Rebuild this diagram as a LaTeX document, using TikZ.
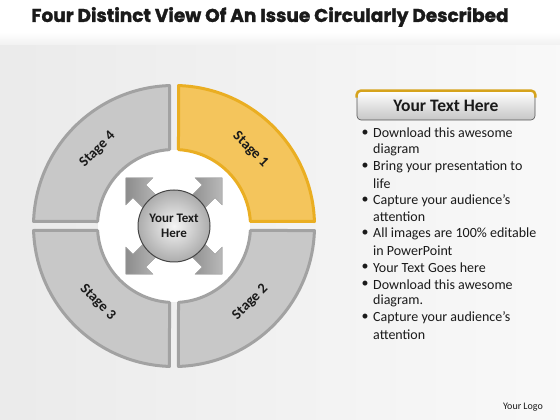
\documentclass[tikz,border=0pt]{standalone}
\usepackage{fontspec}
\setmainfont{Carlito}
\newfontfamily\titlefont[FakeBold=1.5]{Poppins}
\definecolor{segfill}{HTML}{C8C8C8}
\definecolor{segline}{HTML}{A2A2A2}
\definecolor{goldfill}{HTML}{F4C55C}
\definecolor{goldline}{HTML}{EAAE22}
\definecolor{hdrgold}{HTML}{D6A31C}
\definecolor{ink}{HTML}{1A1A1A}
\begin{document}
\begin{tikzpicture}[x=1pt,y=1pt,
  seg/.style={line width=3pt,line join=round},
  stagelbl/.style={font=\bfseries\fontsize{14.5}{16}\selectfont,text=ink},
  blockarrow/.style={left color=gray!90,right color=gray!55,draw=gray!70,line width=.4pt},
  listline/.style={anchor=west,inner sep=0pt,font=\fontsize{14}{16}\selectfont,text=ink},
  hdr/.style={minimum width=178pt,minimum height=29pt,rounded corners=4pt,top color=white,bottom color=gray!45,draw=gray!65!black,line width=.6pt,font=\bfseries\fontsize{17.5}{19}\selectfont,text=ink}]
\useasboundingbox (0,0) rectangle (560,420);
\fill[left color=gray!16,right color=gray!5] (0,0) rectangle (560,375);
\fill[top color=white,bottom color=gray!11] (0,375) rectangle (560,388);
\fill[white] (0,388) rectangle (560,420);
\node[font=\titlefont\bfseries\fontsize{18.5}{20}\selectfont,text=ink] (title) at (270,403) {Four Distinct View Of An Issue Circularly Described};
\begin{scope}[shift={(174,194)}]
  \fill[white] (0,0) circle[radius=76];
  \foreach \r/\fc/\dc in {0/goldfill/goldline,-90/segfill/segline,-180/segfill/segline,-270/segfill/segline}
    \draw[seg,fill=\fc,draw=\dc,rotate=\r] (86.63:76.5) -- (88.16:140.5) arc[start angle=88.16,end angle=1.835,radius=140.5] -- (3.372:76.5) arc[start angle=3.372,end angle=86.63,radius=76.5] -- cycle;
  \foreach \a in {45,135,225,315}
    \filldraw[blockarrow,rotate=\a] (30,-9) -- (49,-9) -- (49,-19) -- (68,0) -- (49,19) -- (49,9) -- (30,9) -- cycle;
  \shade[inner color=gray!8,outer color=gray!65] (0,0) circle[radius=36];
  \draw[gray!55!black,line width=1pt] (0,0) circle[radius=36];
  \node[font=\bfseries\fontsize{13}{15}\selectfont,text=ink,align=center] (hub) at (0,0) {Your Text\\Here};
  \node[stagelbl,rotate=-45] (s1) at (45:108) {Stage 1};
  \node[stagelbl,rotate=45] (s2) at (-45:108) {Stage 2};
  \node[stagelbl,rotate=-45] (s3) at (-135:108) {Stage 3};
  \node[stagelbl,rotate=45] (s4) at (135:108) {Stage 4};
\end{scope}
\node[hdr] (hdr) at (446,314.5) {Your Text Here};
\draw[hdrgold,line width=2.5pt,rounded corners=4pt] ([yshift=-7pt]hdr.north west) |- (hdr.north) -| ([yshift=-7pt]hdr.north east);
\foreach \b/\t [count=\i from 0] in {1/Download this awesome,0/diagram,1/Bring your presentation to,0/life,1/Capture your audience’s,0/attention,1/All images are 100\% editable,0/in PowerPoint,1/Your Text Goes here,1/Download this awesome,0/diagram.,1/Capture your audience’s,0/attention}{
  \node[listline] (l\i) at (373,287-16.8*\i) {\t};
  \ifnum\b=1 \node[listline,anchor=center] (b\i) at (365,287-16.8*\i) {\textbullet}; \fi
}
\node[font=\fontsize{10}{12}\selectfont,text=ink] (logo) at (523,13) {Your Logo};
\end{tikzpicture}
\end{document}
